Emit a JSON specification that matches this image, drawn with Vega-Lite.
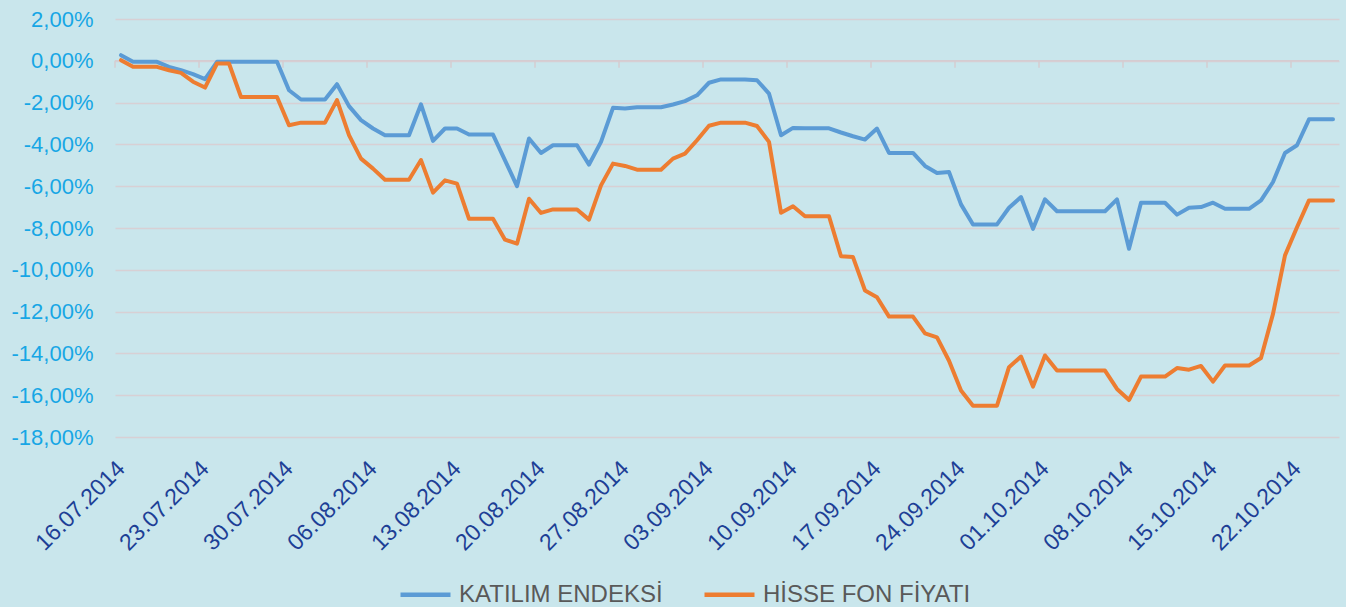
{
  "$schema": "https://vega.github.io/schema/vega-lite/v6.json",
  "width": 1224,
  "height": 418,
  "autosize": {"type": "none"},
  "padding": {"left": 115, "top": 19, "right": 7, "bottom": 170},
  "background": "#c9e6ec",
  "config": {
    "view": {"stroke": null},
    "font": "Liberation Sans"
  },
  "datasets": {
    "series": [
      {"d": "16.07.2014", "KATILIM ENDEKSİ": 0.27, "HİSSE FON FİYATI": 0.03},
      {"d": "17.07.2014", "KATILIM ENDEKSİ": -0.05, "HİSSE FON FİYATI": -0.29},
      {"d": "18.07.2014", "KATILIM ENDEKSİ": -0.05, "HİSSE FON FİYATI": -0.29},
      {"d": "19.07.2014", "KATILIM ENDEKSİ": -0.05, "HİSSE FON FİYATI": -0.29},
      {"d": "20.07.2014", "KATILIM ENDEKSİ": -0.29, "HİSSE FON FİYATI": -0.45},
      {"d": "21.07.2014", "KATILIM ENDEKSİ": -0.45, "HİSSE FON FİYATI": -0.58},
      {"d": "22.07.2014", "KATILIM ENDEKSİ": -0.64, "HİSSE FON FİYATI": -1.0},
      {"d": "23.07.2014", "KATILIM ENDEKSİ": -0.88, "HİSSE FON FİYATI": -1.28},
      {"d": "24.07.2014", "KATILIM ENDEKSİ": -0.05, "HİSSE FON FİYATI": -0.13},
      {"d": "25.07.2014", "KATILIM ENDEKSİ": -0.05, "HİSSE FON FİYATI": -0.13},
      {"d": "26.07.2014", "KATILIM ENDEKSİ": -0.05, "HİSSE FON FİYATI": -1.73},
      {"d": "27.07.2014", "KATILIM ENDEKSİ": -0.05, "HİSSE FON FİYATI": -1.73},
      {"d": "28.07.2014", "KATILIM ENDEKSİ": -0.05, "HİSSE FON FİYATI": -1.73},
      {"d": "29.07.2014", "KATILIM ENDEKSİ": -0.05, "HİSSE FON FİYATI": -1.73},
      {"d": "30.07.2014", "KATILIM ENDEKSİ": -1.41, "HİSSE FON FİYATI": -3.08},
      {"d": "31.07.2014", "KATILIM ENDEKSİ": -1.85, "HİSSE FON FİYATI": -2.96},
      {"d": "01.08.2014", "KATILIM ENDEKSİ": -1.85, "HİSSE FON FİYATI": -2.96},
      {"d": "02.08.2014", "KATILIM ENDEKSİ": -1.85, "HİSSE FON FİYATI": -2.96},
      {"d": "03.08.2014", "KATILIM ENDEKSİ": -1.12, "HİSSE FON FİYATI": -1.88},
      {"d": "04.08.2014", "KATILIM ENDEKSİ": -2.17, "HİSSE FON FİYATI": -3.56},
      {"d": "05.08.2014", "KATILIM ENDEKSİ": -2.84, "HİSSE FON FİYATI": -4.68},
      {"d": "06.08.2014", "KATILIM ENDEKSİ": -3.24, "HİSSE FON FİYATI": -5.16},
      {"d": "07.08.2014", "KATILIM ENDEKSİ": -3.56, "HİSSE FON FİYATI": -5.69},
      {"d": "08.08.2014", "KATILIM ENDEKSİ": -3.56, "HİSSE FON FİYATI": -5.69},
      {"d": "09.08.2014", "KATILIM ENDEKSİ": -3.56, "HİSSE FON FİYATI": -5.69},
      {"d": "10.08.2014", "KATILIM ENDEKSİ": -2.08, "HİSSE FON FİYATI": -4.75},
      {"d": "11.08.2014", "KATILIM ENDEKSİ": -3.83, "HİSSE FON FİYATI": -6.31},
      {"d": "12.08.2014", "KATILIM ENDEKSİ": -3.24, "HİSSE FON FİYATI": -5.72},
      {"d": "13.08.2014", "KATILIM ENDEKSİ": -3.24, "HİSSE FON FİYATI": -5.88},
      {"d": "14.08.2014", "KATILIM ENDEKSİ": -3.53, "HİSSE FON FİYATI": -7.56},
      {"d": "15.08.2014", "KATILIM ENDEKSİ": -3.53, "HİSSE FON FİYATI": -7.56},
      {"d": "16.08.2014", "KATILIM ENDEKSİ": -3.53, "HİSSE FON FİYATI": -7.56},
      {"d": "17.08.2014", "KATILIM ENDEKSİ": -4.76, "HİSSE FON FİYATI": -8.56},
      {"d": "18.08.2014", "KATILIM ENDEKSİ": -6.0, "HİSSE FON FİYATI": -8.75},
      {"d": "19.08.2014", "KATILIM ENDEKSİ": -3.72, "HİSSE FON FİYATI": -6.6},
      {"d": "20.08.2014", "KATILIM ENDEKSİ": -4.41, "HİSSE FON FİYATI": -7.28},
      {"d": "21.08.2014", "KATILIM ENDEKSİ": -4.04, "HİSSE FON FİYATI": -7.11},
      {"d": "22.08.2014", "KATILIM ENDEKSİ": -4.04, "HİSSE FON FİYATI": -7.11},
      {"d": "23.08.2014", "KATILIM ENDEKSİ": -4.04, "HİSSE FON FİYATI": -7.11},
      {"d": "24.08.2014", "KATILIM ENDEKSİ": -4.97, "HİSSE FON FİYATI": -7.6},
      {"d": "25.08.2014", "KATILIM ENDEKSİ": -3.88, "HİSSE FON FİYATI": -5.96},
      {"d": "26.08.2014", "KATILIM ENDEKSİ": -2.25, "HİSSE FON FİYATI": -4.92},
      {"d": "27.08.2014", "KATILIM ENDEKSİ": -2.28, "HİSSE FON FİYATI": -5.03},
      {"d": "28.08.2014", "KATILIM ENDEKSİ": -2.22, "HİSSE FON FİYATI": -5.21},
      {"d": "29.08.2014", "KATILIM ENDEKSİ": -2.22, "HİSSE FON FİYATI": -5.21},
      {"d": "30.08.2014", "KATILIM ENDEKSİ": -2.22, "HİSSE FON FİYATI": -5.21},
      {"d": "31.08.2014", "KATILIM ENDEKSİ": -2.09, "HİSSE FON FİYATI": -4.68},
      {"d": "01.09.2014", "KATILIM ENDEKSİ": -1.93, "HİSSE FON FİYATI": -4.44},
      {"d": "02.09.2014", "KATILIM ENDEKSİ": -1.65, "HİSSE FON FİYATI": -3.8},
      {"d": "03.09.2014", "KATILIM ENDEKSİ": -1.05, "HİSSE FON FİYATI": -3.11},
      {"d": "04.09.2014", "KATILIM ENDEKSİ": -0.89, "HİSSE FON FİYATI": -2.96},
      {"d": "05.09.2014", "KATILIM ENDEKSİ": -0.89, "HİSSE FON FİYATI": -2.96},
      {"d": "06.09.2014", "KATILIM ENDEKSİ": -0.89, "HİSSE FON FİYATI": -2.96},
      {"d": "07.09.2014", "KATILIM ENDEKSİ": -0.93, "HİSSE FON FİYATI": -3.12},
      {"d": "08.09.2014", "KATILIM ENDEKSİ": -1.57, "HİSSE FON FİYATI": -3.88},
      {"d": "09.09.2014", "KATILIM ENDEKSİ": -3.56, "HİSSE FON FİYATI": -7.27},
      {"d": "10.09.2014", "KATILIM ENDEKSİ": -3.21, "HİSSE FON FİYATI": -6.96},
      {"d": "11.09.2014", "KATILIM ENDEKSİ": -3.23, "HİSSE FON FİYATI": -7.44},
      {"d": "12.09.2014", "KATILIM ENDEKSİ": -3.23, "HİSSE FON FİYATI": -7.44},
      {"d": "13.09.2014", "KATILIM ENDEKSİ": -3.23, "HİSSE FON FİYATI": -7.44},
      {"d": "14.09.2014", "KATILIM ENDEKSİ": -3.43, "HİSSE FON FİYATI": -9.35},
      {"d": "15.09.2014", "KATILIM ENDEKSİ": -3.61, "HİSSE FON FİYATI": -9.39},
      {"d": "16.09.2014", "KATILIM ENDEKSİ": -3.77, "HİSSE FON FİYATI": -10.99},
      {"d": "17.09.2014", "KATILIM ENDEKSİ": -3.24, "HİSSE FON FİYATI": -11.31},
      {"d": "18.09.2014", "KATILIM ENDEKSİ": -4.41, "HİSSE FON FİYATI": -12.24},
      {"d": "19.09.2014", "KATILIM ENDEKSİ": -4.41, "HİSSE FON FİYATI": -12.24},
      {"d": "20.09.2014", "KATILIM ENDEKSİ": -4.41, "HİSSE FON FİYATI": -12.24},
      {"d": "21.09.2014", "KATILIM ENDEKSİ": -5.03, "HİSSE FON FİYATI": -13.04},
      {"d": "22.09.2014", "KATILIM ENDEKSİ": -5.37, "HİSSE FON FİYATI": -13.23},
      {"d": "23.09.2014", "KATILIM ENDEKSİ": -5.32, "HİSSE FON FİYATI": -14.35},
      {"d": "24.09.2014", "KATILIM ENDEKSİ": -6.87, "HİSSE FON FİYATI": -15.78},
      {"d": "25.09.2014", "KATILIM ENDEKSİ": -7.83, "HİSSE FON FİYATI": -16.5},
      {"d": "26.09.2014", "KATILIM ENDEKSİ": -7.83, "HİSSE FON FİYATI": -16.5},
      {"d": "27.09.2014", "KATILIM ENDEKSİ": -7.83, "HİSSE FON FİYATI": -16.5},
      {"d": "28.09.2014", "KATILIM ENDEKSİ": -7.03, "HİSSE FON FİYATI": -14.66},
      {"d": "29.09.2014", "KATILIM ENDEKSİ": -6.52, "HİSSE FON FİYATI": -14.15},
      {"d": "30.09.2014", "KATILIM ENDEKSİ": -8.04, "HİSSE FON FİYATI": -15.59},
      {"d": "01.10.2014", "KATILIM ENDEKSİ": -6.63, "HİSSE FON FİYATI": -14.1},
      {"d": "02.10.2014", "KATILIM ENDEKSİ": -7.2, "HİSSE FON FİYATI": -14.82},
      {"d": "03.10.2014", "KATILIM ENDEKSİ": -7.2, "HİSSE FON FİYATI": -14.82},
      {"d": "04.10.2014", "KATILIM ENDEKSİ": -7.2, "HİSSE FON FİYATI": -14.82},
      {"d": "05.10.2014", "KATILIM ENDEKSİ": -7.2, "HİSSE FON FİYATI": -14.82},
      {"d": "06.10.2014", "KATILIM ENDEKSİ": -7.2, "HİSSE FON FİYATI": -14.82},
      {"d": "07.10.2014", "KATILIM ENDEKSİ": -6.63, "HİSSE FON FİYATI": -15.7},
      {"d": "08.10.2014", "KATILIM ENDEKSİ": -8.99, "HİSSE FON FİYATI": -16.23},
      {"d": "09.10.2014", "KATILIM ENDEKSİ": -6.79, "HİSSE FON FİYATI": -15.11},
      {"d": "10.10.2014", "KATILIM ENDEKSİ": -6.79, "HİSSE FON FİYATI": -15.11},
      {"d": "11.10.2014", "KATILIM ENDEKSİ": -6.79, "HİSSE FON FİYATI": -15.11},
      {"d": "12.10.2014", "KATILIM ENDEKSİ": -7.36, "HİSSE FON FİYATI": -14.7},
      {"d": "13.10.2014", "KATILIM ENDEKSİ": -7.03, "HİSSE FON FİYATI": -14.78},
      {"d": "14.10.2014", "KATILIM ENDEKSİ": -7.0, "HİSSE FON FİYATI": -14.6},
      {"d": "15.10.2014", "KATILIM ENDEKSİ": -6.79, "HİSSE FON FİYATI": -15.35},
      {"d": "16.10.2014", "KATILIM ENDEKSİ": -7.08, "HİSSE FON FİYATI": -14.58},
      {"d": "17.10.2014", "KATILIM ENDEKSİ": -7.08, "HİSSE FON FİYATI": -14.58},
      {"d": "18.10.2014", "KATILIM ENDEKSİ": -7.08, "HİSSE FON FİYATI": -14.58},
      {"d": "19.10.2014", "KATILIM ENDEKSİ": -6.68, "HİSSE FON FİYATI": -14.22},
      {"d": "20.10.2014", "KATILIM ENDEKSİ": -5.8, "HİSSE FON FİYATI": -12.11},
      {"d": "21.10.2014", "KATILIM ENDEKSİ": -4.41, "HİSSE FON FİYATI": -9.31},
      {"d": "22.10.2014", "KATILIM ENDEKSİ": -4.04, "HİSSE FON FİYATI": -7.96},
      {"d": "23.10.2014", "KATILIM ENDEKSİ": -2.8, "HİSSE FON FİYATI": -6.68},
      {"d": "24.10.2014", "KATILIM ENDEKSİ": -2.8, "HİSSE FON FİYATI": -6.68},
      {"d": "25.10.2014", "KATILIM ENDEKSİ": -2.8, "HİSSE FON FİYATI": -6.68}
    ],
    "ticks": [
      {"d": "16.07.2014"}, {"d": "23.07.2014"}, {"d": "30.07.2014"},
      {"d": "06.08.2014"}, {"d": "13.08.2014"}, {"d": "20.08.2014"}, {"d": "27.08.2014"},
      {"d": "03.09.2014"}, {"d": "10.09.2014"}, {"d": "17.09.2014"}, {"d": "24.09.2014"},
      {"d": "01.10.2014"}, {"d": "08.10.2014"}, {"d": "15.10.2014"}, {"d": "22.10.2014"}
    ]
  },
  "layer": [
    {
      "data": {"values": [{}]},
      "mark": {"type": "rule", "color": "#d5ccd1", "strokeWidth": 1.5},
      "encoding": {
        "y": {"datum": 0, "type": "quantitative", "title": null}
      }
    },
    {
      "data": {"name": "ticks", "format": {"parse": {"d": "date:'%d.%m.%Y'"}}},
      "mark": {"type": "rule", "color": "#d5ccd1", "strokeWidth": 1.5},
      "encoding": {
        "x": {"field": "d", "type": "temporal", "timeUnit": "yearmonthdate", "title": null},
        "y": {"datum": 0, "type": "quantitative", "title": null},
        "y2": {"datum": -0.33}
      }
    },
    {
      "data": {"name": "series", "format": {"parse": {"d": "date:'%d.%m.%Y'"}}},
      "transform": [
        {"fold": ["KATILIM ENDEKSİ", "HİSSE FON FİYATI"], "as": ["series", "value"]}
      ],
      "mark": {"type": "line", "strokeWidth": 4, "strokeJoin": "round", "strokeCap": "round"},
      "encoding": {
        "x": {
          "field": "d",
          "type": "temporal",
          "timeUnit": "yearmonthdate",
          "bandPosition": 0.5,
          "title": null,
          "scale": {
            "domain": [
              {"year": 2014, "month": 7, "date": 16},
              {"year": 2014, "month": 10, "date": 26}
            ]
          },
          "axis": {
            "values": [
              {"year": 2014, "month": 7, "date": 16},
              {"year": 2014, "month": 7, "date": 23},
              {"year": 2014, "month": 7, "date": 30},
              {"year": 2014, "month": 8, "date": 6},
              {"year": 2014, "month": 8, "date": 13},
              {"year": 2014, "month": 8, "date": 20},
              {"year": 2014, "month": 8, "date": 27},
              {"year": 2014, "month": 9, "date": 3},
              {"year": 2014, "month": 9, "date": 10},
              {"year": 2014, "month": 9, "date": 17},
              {"year": 2014, "month": 9, "date": 24},
              {"year": 2014, "month": 10, "date": 1},
              {"year": 2014, "month": 10, "date": 8},
              {"year": 2014, "month": 10, "date": 15},
              {"year": 2014, "month": 10, "date": 22}
            ],
            "format": "%d.%m.%Y",
            "labelAngle": -45,
            "labelFontSize": 23,
            "labelColor": "#1d3f96",
            "labelPadding": 20,
            "labelOffset": -2,
            "labelOverlap": false,
            "labelFlush": false,
            "domain": false,
            "ticks": false,
            "grid": false
          }
        },
        "y": {
          "field": "value",
          "type": "quantitative",
          "title": null,
          "scale": {"domain": [-18, 2], "nice": false, "zero": false},
          "axis": {
            "values": [-18, -16, -14, -12, -10, -8, -6, -4, -2, 0, 2],
            "labelExpr": "replace(replace(format(datum.value, '.2f'), '.', ','), '\u2212', '-') + '%'",
            "labelFontSize": 22,
            "labelColor": "#17a6e5",
            "labelPadding": 22,
            "domain": false,
            "ticks": false,
            "grid": true,
            "gridColor": "#d8d0d4",
            "gridWidth": 1.3
          }
        },
        "color": {
          "field": "series",
          "type": "nominal",
          "scale": {
            "domain": ["KATILIM ENDEKSİ", "HİSSE FON FİYATI"],
            "range": ["#5B9BD5", "#ED7D31"]
          },
          "legend": {
            "title": null,
            "orient": "none",
            "direction": "horizontal",
            "legendX": 283,
            "legendY": 548,
            "symbolType": "stroke",
            "symbolSize": 2500,
            "symbolStrokeWidth": 4.5,
            "labelFont": "Liberation Sans",
            "labelFontSize": 24,
            "labelLimit": 0,
            "labelColor": "#595959",
            "labelOffset": 6,
            "columnPadding": 32,
            "padding": 0
          }
        }
      }
    }
  ]
}
